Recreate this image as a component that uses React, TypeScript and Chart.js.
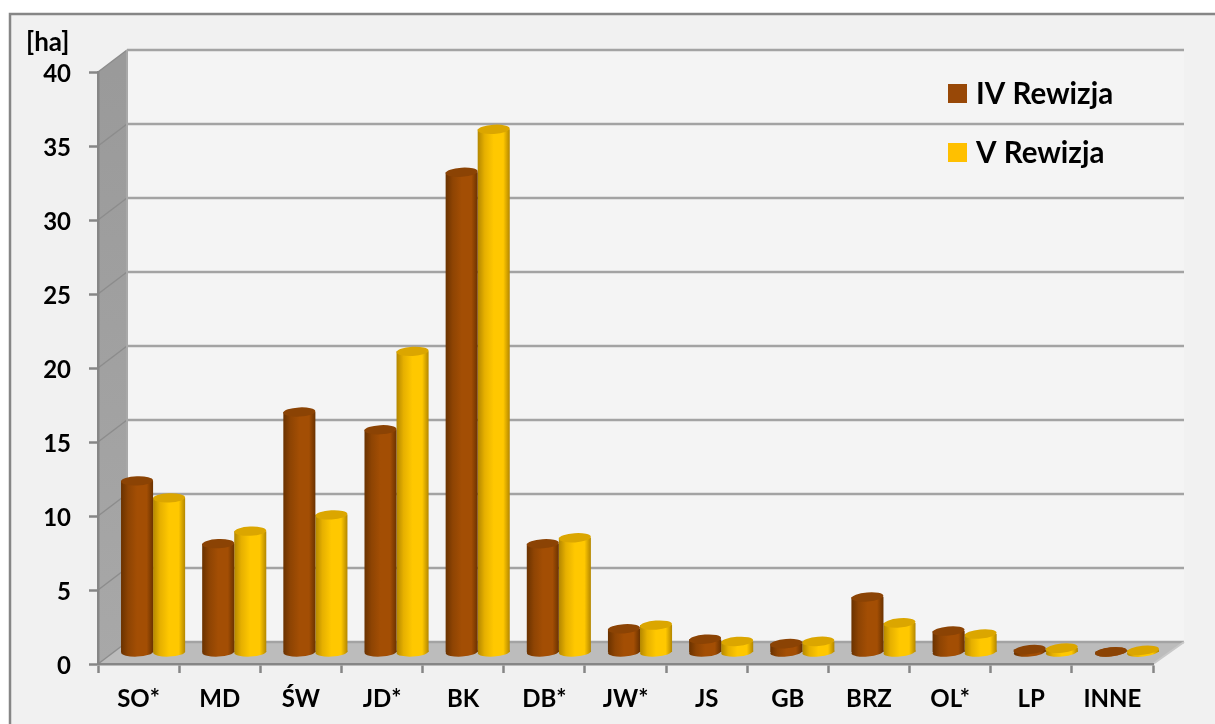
import React, { useEffect, useRef } from "react";
import { Chart, registerables } from "chart.js";

Chart.register(...registerables);

const categories = ["SO*", "MD", "ŚW", "JD*", "BK", "DB*", "JW*", "JS", "GB", "BRZ", "OL*", "LP", "INNE"];
const rewizja4 = [11.6, 7.35, 16.25, 15.05, 32.45, 7.35, 1.6, 0.9, 0.6, 3.75, 1.45, 0.2, 0.05];
const rewizja5 = [10.45, 8.2, 9.3, 20.35, 35.35, 7.75, 1.85, 0.75, 0.75, 2.0, 1.25, 0.3, 0.15];
const seriesNames = ["IV Rewizja", "V Rewizja"];
const unitLabel = "[ha]";

const FONT = "Lato, 'Open Sans', sans-serif";
const DEPTH_X = 29;
const DEPTH_Y = 22;
const RIGHT_EXTRA = 2;
const BAR_SHIFT_X = 14.5;
const BAR_SHIFT_Y = 11.5;
const BAR_W = 32;
const CAP_RY = 4.6;

const palette = [
  { edge: "#6a3200", mid: "#a34e04", soft: "#8e4403", cap: "#8b4304", legend: "#984807" },
  { edge: "#b48700", mid: "#ffc800", soft: "#e6b000", cap: "#dba600", legend: "#ffc000" },
];

function shade(ctx: CanvasRenderingContext2D, cx: number, p: (typeof palette)[number]) {
  const g = ctx.createLinearGradient(cx - BAR_W / 2, 0, cx + BAR_W / 2, 0);
  g.addColorStop(0, p.edge);
  g.addColorStop(0.22, p.soft);
  g.addColorStop(0.5, p.mid);
  g.addColorStop(0.8, p.mid);
  g.addColorStop(1, p.edge);
  return g;
}

function tilt(chart: any, x: number) {
  const a = chart.chartArea;
  return (-(2 + (4 * (x - a.left)) / (a.right - a.left)) * Math.PI) / 180;
}

const scenePlugin = {
  id: "scene",
  beforeDraw(chart: any) {
    const { ctx, chartArea: a, scales, width, height } = chart;
    const y = scales.y;
    const backRight = a.right + DEPTH_X + RIGHT_EXTRA;
    ctx.save();
    ctx.fillStyle = "#ffffff";
    ctx.fillRect(0, 0, width, height);
    ctx.fillStyle = "#f1f1f1";
    ctx.fillRect(10, 14, width - 10, height - 14);
    ctx.strokeStyle = "#868686";
    ctx.lineWidth = 2.5;
    ctx.beginPath();
    ctx.moveTo(10, height);
    ctx.lineTo(10, 14);
    ctx.lineTo(width, 14);
    ctx.stroke();

    // back wall
    ctx.fillStyle = "#f4f4f4";
    ctx.fillRect(a.left + DEPTH_X, a.top - DEPTH_Y, backRight - a.left - DEPTH_X, a.bottom - a.top);

    // side wall
    const wall = ctx.createLinearGradient(0, a.top, 0, a.bottom);
    wall.addColorStop(0, "#9a9a9a");
    wall.addColorStop(1, "#a8a8a8");
    ctx.fillStyle = wall;
    ctx.beginPath();
    ctx.moveTo(a.left, a.top);
    ctx.lineTo(a.left + DEPTH_X, a.top - DEPTH_Y);
    ctx.lineTo(a.left + DEPTH_X, a.bottom - DEPTH_Y);
    ctx.lineTo(a.left, a.bottom);
    ctx.closePath();
    ctx.fill();

    // floor
    ctx.fillStyle = "#bcbcbc";
    ctx.beginPath();
    ctx.moveTo(a.left, a.bottom);
    ctx.lineTo(a.left + DEPTH_X, a.bottom - DEPTH_Y);
    ctx.lineTo(backRight, a.bottom - DEPTH_Y);
    ctx.lineTo(a.right, a.bottom);
    ctx.closePath();
    ctx.fill();

    // gridlines folded over the walls
    ctx.lineCap = "butt";
    y.ticks.forEach((t: any) => {
      const py = y.getPixelForValue(t.value);
      ctx.strokeStyle = "#8c8c8c";
      ctx.lineWidth = 1.5;
      ctx.beginPath();
      ctx.moveTo(a.left, py);
      ctx.lineTo(a.left + DEPTH_X, py - DEPTH_Y);
      ctx.stroke();
      ctx.strokeStyle = "#a3a3a3";
      ctx.lineWidth = 2.5;
      ctx.beginPath();
      ctx.moveTo(a.left + DEPTH_X, py - DEPTH_Y);
      ctx.lineTo(backRight, py - DEPTH_Y);
      ctx.stroke();
    });
    ctx.strokeStyle = "#a8a8a8";
    ctx.lineWidth = 2;
    ctx.beginPath();
    ctx.moveTo(a.left + DEPTH_X, a.top - DEPTH_Y);
    ctx.lineTo(a.left + DEPTH_X, a.bottom - DEPTH_Y);
    ctx.stroke();
    ctx.beginPath();
    ctx.moveTo(a.right, a.bottom);
    ctx.lineTo(backRight, a.bottom - DEPTH_Y);
    ctx.strokeStyle = "#c8c8c8";
    ctx.stroke();
    ctx.restore();
  },
  beforeDatasetsDraw(chart: any) {
    chart.ctx.save();
    chart.ctx.translate(BAR_SHIFT_X, -BAR_SHIFT_Y);
  },
  beforeDatasetDraw(chart: any, args: any) {
    const { ctx } = chart;
    const p = palette[args.index];
    args.meta.data.forEach((el: any) => {
      ctx.fillStyle = shade(ctx, el.x, p);
      ctx.beginPath();
      ctx.ellipse(el.x, el.base, BAR_W / 2, CAP_RY, tilt(chart, el.x), 0, Math.PI * 2);
      ctx.fill();
    });
  },
  afterDatasetDraw(chart: any, args: any) {
    const { ctx } = chart;
    const p = palette[args.index];
    args.meta.data.forEach((el: any) => {
      ctx.fillStyle = p.cap;
      ctx.beginPath();
      ctx.ellipse(el.x, el.y, BAR_W / 2, CAP_RY, tilt(chart, el.x), 0, Math.PI * 2);
      ctx.fill();
    });
  },
  afterDatasetsDraw(chart: any) {
    chart.ctx.restore();
  },
  afterDraw(chart: any) {
    const { ctx } = chart;
    ctx.save();
    ctx.fillStyle = "#000000";
    ctx.textBaseline = "alphabetic";
    ctx.font = `bold 26px ${FONT}`;
    ctx.fillText(unitLabel, 26, 51);
    ctx.font = `bold 29.5px ${FONT}`;
    seriesNames.forEach((name, i) => {
      const top = 84 + i * 59;
      ctx.fillStyle = palette[i].legend;
      ctx.fillRect(948, top, 19, 19);
      ctx.fillStyle = "#000000";
      ctx.fillText(name, 976, top + 20);
    });
    ctx.restore();
  },
};

export default function App() {
  const ref = useRef<HTMLCanvasElement>(null);
  useEffect(() => {
    document.documentElement.style.overflow = "hidden";
    const barColor = (i: number) => (c: any) => {
      if (!Number.isInteger(c.dataIndex)) return palette[i].mid;
      const cx = c.chart.scales.x.getPixelForValue(c.dataIndex) + (i === 0 ? -BAR_W / 2 : BAR_W / 2);
      if (!Number.isFinite(cx)) return palette[i].mid;
      return shade(c.chart.ctx, cx, palette[i]);
    };
    const chart = new Chart(ref.current!, {
      type: "bar",
      data: {
        labels: categories,
        datasets: [
          { label: seriesNames[0], data: rewizja4, backgroundColor: barColor(0) },
          { label: seriesNames[1], data: rewizja5, backgroundColor: barColor(1) },
        ],
      },
      options: {
        animation: false,
        responsive: false,
        devicePixelRatio: 1,
        layout: { padding: { top: 72, right: 62, left: 0, bottom: 0 } },
        datasets: { bar: { categoryPercentage: 0.79, barPercentage: 1, clip: false } },
        plugins: { legend: { display: false }, title: { display: false }, tooltip: { enabled: false } },
        scales: {
          x: {
            afterFit: (s: any) => { s.height = 60; },
            grid: { drawOnChartArea: false, tickLength: 9, tickColor: "#868686", tickWidth: 2.5 },
            border: { display: true, color: "#868686", width: 2.5 },
            ticks: { color: "#000", font: { family: FONT, size: 24, weight: "bold" }, padding: 12, maxRotation: 0, autoSkip: false },
          },
          y: {
            min: 0,
            max: 40,
            afterFit: (s: any) => { s.width = 98; },
            grid: { drawOnChartArea: false, tickLength: 9, tickColor: "#868686", tickWidth: 2.5 },
            border: { display: true, color: "#868686", width: 2.5 },
            ticks: { stepSize: 5, color: "#000", font: { family: FONT, size: 24, weight: "bold" }, padding: 18, labelOffset: 2 },
          },
        },
      },
      plugins: [scenePlugin],
    } as any);
    return () => chart.destroy();
  }, []);
  return (
    <div style={{ position: "absolute", left: 0, top: 0, width: 1215, height: 724 }}>
      <canvas ref={ref} width={1215} height={724} style={{ display: "block", filter: "blur(0.4px)" }} />
    </div>
  );
}
